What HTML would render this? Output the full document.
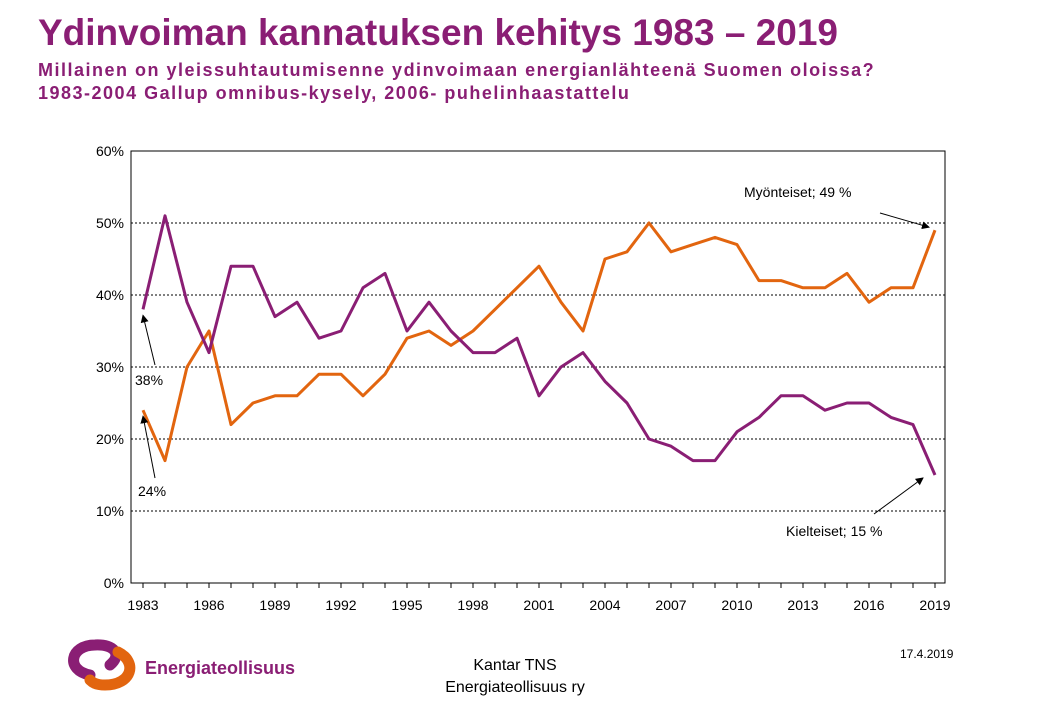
<!DOCTYPE html>
<html><head><meta charset="utf-8"><style>
body{margin:0;width:1040px;height:720px;background:#fff;font-family:"Liberation Sans",sans-serif;overflow:hidden;position:relative}
.t{position:absolute;left:38px;color:#8a1e74;font-weight:bold;margin:0;white-space:nowrap}
</style></head><body>
<h1 class="t" style="top:12px;font-size:37px">Ydinvoiman kannatuksen kehitys 1983 – 2019</h1>
<div class="t" style="top:60px;font-size:18px;letter-spacing:1.5px">Millainen on yleissuhtautumisenne ydinvoimaan energianlähteenä Suomen oloissa?</div>
<div class="t" style="top:83px;font-size:18px;letter-spacing:1.5px">1983-2004 Gallup omnibus-kysely, 2006- puhelinhaastattelu</div>
<svg id="c" width="1040" height="720" style="position:absolute;left:0;top:0" font-family="Liberation Sans, sans-serif"></svg>
<div style="position:absolute;left:430px;top:655px;width:170px;text-align:center;font-size:16px;line-height:22px">Kantar TNS<br>Energiateollisuus ry</div>
<div style="position:absolute;left:900px;top:647px;font-size:12px">17.4.2019</div>
<svg width="250" height="70" style="position:absolute;left:60px;top:630px">
<path d="M30 45 C5 40 10 15 35 15 C55 14 62 25 50 35" stroke="#8a1e74" stroke-width="11" fill="none" stroke-linecap="round"/>
<path d="M58 22 C78 32 72 55 45 55 C35 55 32 52 30 50" stroke="#e2650f" stroke-width="11" fill="none" stroke-linecap="round"/>
<text x="85" y="44" font-size="18" fill="#8a1e74" font-weight="bold">Energiateollisuus</text>
</svg>
<script>
const years=[];for(let y=1983;y<=2019;y++)years.push(y);
const positive=[24,17,30,35,22,25,26,26,29,29,26,29,34,35,33,35,38,41,44,39,35,45,46,50,46,47,48,47,42,42,41,41,43,39,41,41,49];
const negative=[38,51,39,32,44,44,37,39,34,35,41,43,35,39,35,32,32,34,26,30,32,28,25,20,19,17,17,21,23,26,26,24,25,25,23,22,15];
const yTicks=[0,10,20,30,40,50,60];
const xTicks=[1983,1986,1989,1992,1995,1998,2001,2004,2007,2010,2013,2016,2019];
const L=131,R=945,T=151,B=583;
const x=v=>143+(v-1983)*22, y=v=>B-(v/60)*(B-T);
const s=document.getElementById('c'),NS='http://www.w3.org/2000/svg';
function el(t,a,txt){const e=document.createElementNS(NS,t);for(const k in a)e.setAttribute(k,a[k]);if(txt!=null)e.textContent=txt;s.appendChild(e);return e;}
yTicks.forEach(v=>{
 if(v>0&&v<60){const g=el('line',{x1:L,x2:R,y1:y(v),y2:y(v),stroke:'#000','stroke-dasharray':'2,2','stroke-width':1});
 
 }
 const t=el('text',{x:L-7,y:y(v)+5,'text-anchor':'end','font-size':14},v+'%');
 
 
});
const f=el('rect',{x:L,y:T,width:R-L,height:B-T,fill:'none',stroke:'#000'});


years.forEach(v=>{const tk=el('line',{x1:x(v),x2:x(v),y1:B,y2:B+5,stroke:'#000'});
 
 });
xTicks.forEach(v=>{const t=el('text',{x:x(v),y:B+27,'text-anchor':'middle','font-size':14},v);
 
 });
function line(d,c,n){const p=el('polyline',{points:d.map((v,i)=>x(years[i])+','+y(v)).join(' '),fill:'none',stroke:c,'stroke-width':3,'stroke-linejoin':'round'});
 
 }
line(positive,'#e2650f','line-myonteiset');
line(negative,'#8a1e74','line-kielteiset');
el('defs',{}).innerHTML='<marker id="ar" markerWidth="8" markerHeight="8" refX="7" refY="4" orient="auto"><path d="M0,0L8,4L0,8z" fill="#000"/></marker>';
function arrow(x1,y1,x2,y2,n){const a=el('line',{x1,y1,x2,y2,stroke:'#000','marker-end':'url(#ar)'});
 
 }
function lab(tx,ty,txt,n){const t=el('text',{x:tx,y:ty,'font-size':14},txt);
 
 }
const li=years.length-1;
arrow(880,213,x(2019)-6,y(positive[li])-3,'arrow-myonteiset');
lab(744,197,'Myönteiset; '+positive[li]+' %','annotation-myonteiset');
arrow(874,514,x(2019)-12,y(negative[li])+3,'arrow-kielteiset');
lab(786,536,'Kielteiset; '+negative[li]+' %','annotation-kielteiset');
arrow(155,365,x(1983),y(negative[0])+6,'arrow-38');
lab(135,385,negative[0]+'%','annotation-start-kielteiset');
arrow(155,478,x(1983),y(positive[0])+6,'arrow-24');
lab(138,496,positive[0]+'%','annotation-start-myonteiset');
</script>
</body></html>
